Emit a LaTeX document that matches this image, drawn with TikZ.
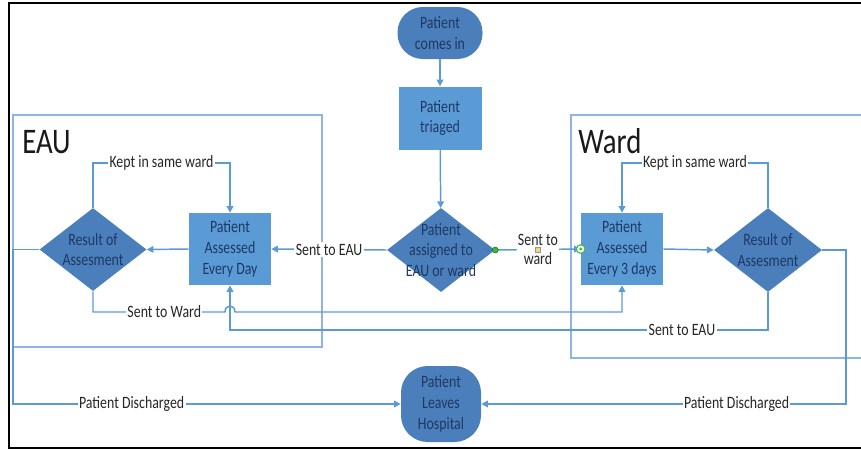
\documentclass[tikz,border=0pt]{standalone}
\usepackage{fontspec}
\setmainfont{Carlito}[FakeStretch=0.8]
\usetikzlibrary{shapes.geometric,arrows.meta,calc}
\definecolor{boxblue}{HTML}{5B9BD5}
\definecolor{darkblue}{HTML}{4A7FBB}
\definecolor{navy}{HTML}{1F3864}
\definecolor{linkblue}{HTML}{5B9BD5}
\definecolor{zoneblue}{HTML}{8DB4E2}
\definecolor{labelgray}{HTML}{262626}
\definecolor{dotgreen}{HTML}{3DB83D}
\definecolor{markyellow}{HTML}{F5D76E}
\begin{document}
\begin{tikzpicture}[x=0.75pt,y=-0.75pt,
  font=\fontsize{13}{15.5}\selectfont,
  procbox/.style={rectangle, fill=boxblue, text=navy, align=center,
    minimum width=61.5pt, minimum height=54pt, inner sep=1pt},
  termbox/.style={rectangle, fill=darkblue, text=navy, align=center, inner sep=1pt},
  decbox/.style={diamond, fill=darkblue, minimum width=81pt, minimum height=63pt, inner sep=0pt},
  dectext/.style={text=navy, align=center, inner sep=0pt},
  link/.style={draw=linkblue, line width=1.1pt},
  arr/.style={link, -{Triangle[length=5pt,width=5pt]}},
  lbl/.style={fill=white, text=labelgray, inner sep=1pt, align=center},
  zone/.style={draw=zoneblue, line width=1pt},
  heading/.style={font=\fontsize{27}{30}\selectfont, anchor=base west, text=black!90, inner sep=0pt}]
\useasboundingbox (0,0) rectangle (861,450);

% outer frame
\draw[black, line width=1.5pt] (861,3) -- (9,3) -- (9,448) -- (861,448);

% zones
\draw[zone] (13,115) rectangle (322,347);
\draw[zone] (861,115) -- (571,115) -- (571,358) -- (861,358);
\node[heading] (eauh) at (22,153) {EAU};
\node[heading] (wardh) at (578,153) {Ward};

% helper coordinates
\coordinate (ky) at (0,163);
\coordinate (swy) at (0,312);
\coordinate (sey) at (0,330);
\coordinate (lx) at (13,0);
\coordinate (rx) at (846,0);

% nodes
\node[termbox, rounded corners=19pt, minimum width=63.75pt, minimum height=39pt] (comes) at (440,33) {Patient\\comes in};
\node[procbox, minimum width=62.25pt, minimum height=47.25pt] (triaged) at (440,118) {Patient\\triaged};
\node[decbox] (assign) at (441,250) {};
\node[dectext] (assignT) at (assign) {Patient\\assigned to\\EAU or ward};
\node[procbox] (eaubox) at (230,249) {Patient\\Assessed\\Every Day};
\node[decbox, minimum width=80.25pt, minimum height=62.25pt] (eaures) at (93,249.5) {};
\node[dectext] (eauresT) at (eaures) {Result of\\Assesment};
\node[procbox] (wardbox) at (622,249) {Patient\\Assessed\\Every 3 days};
\node[decbox] (wardres) at (768,250) {};
\node[dectext] (wardresT) at (wardres) {Result of\\Assesment};
\node[termbox, rounded corners=20pt, minimum width=60pt, minimum height=57pt] (leaves) at (441,404) {Patient\\Leaves\\Hospital};

% hop coordinates
\coordinate (h1) at ($(eaubox.south |- swy)+(-5,0)$);
\coordinate (h2) at ($(eaubox.south |- swy)+(5,0)$);

% connectors
\draw[arr] (comes) -- (triaged);
\draw[arr] (triaged) -- (assign);
\draw[arr] (assign.west) -- node[lbl] (l1) {Sent to EAU} (eaubox.east);
\draw[arr] (assign.east) -- node[lbl, font=\fontsize{13}{14}\selectfont] (l2) {Sent to\\ward} (wardbox.west);
\draw[arr] (eaubox.west) -- (eaures.east);
\draw[arr] (wardbox.east) -- (wardres.west);
\draw[arr] (eaures.north) |- node[lbl, pos=0.75] (l3) {Kept in same ward} (eaubox.north |- ky) -- (eaubox.north);
\draw[arr] (wardres.north) |- node[lbl, pos=0.75] (l4) {Kept in same ward} (wardbox.north |- ky) -- (wardbox.north);
\draw[arr] (eaures.south) |- node[lbl, pos=0.77] (l5) {Sent to Ward} (h1)
  .. controls ($(h1)+(0,-8)$) and ($(h2)+(0,-8)$) .. (h2) -| (wardbox.south);
\draw[arr] (wardres.south) |- node[lbl, pos=0.58] (l6) {Sent to EAU} (eaubox.south |- sey) -- (eaubox.south);
\draw[arr] (eaures.west) -| (lx |- leaves.west) -- node[lbl, pos=0.306] (l7) {Patient Discharged} (leaves.west);
\draw[arr] (wardres.east) -| (rx |- leaves.east) -- node[lbl, pos=0.30] (l8) {Patient Discharged} (leaves.east);

% selection markers
\node[circle, fill=dotgreen, draw=green!40!black, line width=0.3pt, minimum size=4.5pt, inner sep=0pt] (gd1) at (assign.east) {};
\node[circle, fill=white, draw=dotgreen, line width=0.8pt, minimum size=6.5pt, inner sep=0pt] (gd2) at (wardbox.west) {};
\node[circle, fill=dotgreen, minimum size=2.5pt, inner sep=0pt] (gd3) at (wardbox.west) {};
\node[rectangle, fill=markyellow, draw=black!40, line width=0.3pt, minimum size=3.5pt, inner sep=0pt] (ysq) at (l2) {};
\end{tikzpicture}
\end{document}
